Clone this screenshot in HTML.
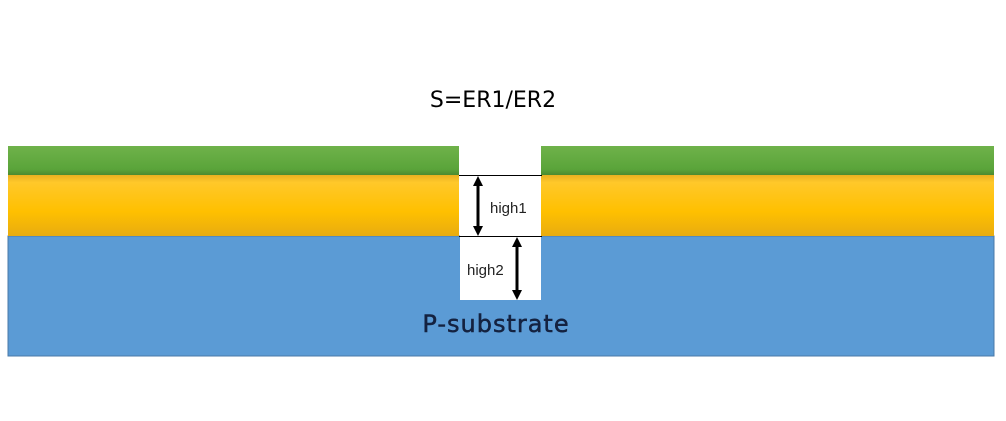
<!DOCTYPE html>
<html><head><style>
html,body{margin:0;padding:0;background:#fff;}
</style></head><body>
<svg width="1006" height="416" xmlns="http://www.w3.org/2000/svg">
<defs>
<linearGradient id="g" x1="0" y1="0" x2="0" y2="1"><stop offset="0" stop-color="#6fb24a"/><stop offset="0.8" stop-color="#5aa43a"/><stop offset="1" stop-color="#4b8a30"/></linearGradient>
<linearGradient id="y" x1="0" y1="0" x2="0" y2="1"><stop offset="0" stop-color="#e8b020"/><stop offset="0.12" stop-color="#ffc82a"/><stop offset="0.6" stop-color="#ffc000"/><stop offset="1" stop-color="#e8ac10"/></linearGradient>
<marker id="a" markerWidth="10" markerHeight="10" refX="4" refY="5" orient="auto-start-reverse" markerUnits="userSpaceOnUse"><path d="M0,0 L10,5 L0,10 z" fill="#000"/></marker>
</defs>
<rect x="0" y="0" width="1006" height="416" fill="#fff"/>
<rect x="8" y="236" width="986" height="120" fill="#5b9bd5" stroke="#4a7aa8" stroke-width="1"/>
<rect x="8" y="146" width="451" height="29" fill="url(#g)"/>
<rect x="541" y="146" width="453" height="29" fill="url(#g)"/>
<rect x="8" y="175" width="451" height="61" fill="url(#y)"/>
<rect x="541" y="175" width="453" height="61" fill="url(#y)"/>
<rect x="460" y="146" width="81" height="154" fill="#fff"/>
<line x1="459" y1="175.5" x2="542" y2="175.5" stroke="#000" stroke-width="1"/>
<line x1="459" y1="236.5" x2="542" y2="236.5" stroke="#000" stroke-width="1"/>
<line x1="478" y1="182" x2="478" y2="230" stroke="#000" stroke-width="3" marker-start="url(#a)" marker-end="url(#a)"/>
<line x1="517" y1="243" x2="517" y2="294" stroke="#000" stroke-width="3" marker-start="url(#a)" marker-end="url(#a)"/>
<text x="490" y="213" font-family="Liberation Sans, sans-serif" font-size="15" fill="#222">high1</text>
<text x="467" y="275" font-family="Liberation Sans, sans-serif" font-size="15" fill="#222">high2</text>
<text x="493" y="107" text-anchor="middle" font-family="DejaVu Sans, sans-serif" font-size="22" fill="#000">S=ER1/ER2</text>
<text x="496" y="332" text-anchor="middle" font-family="DejaVu Sans, sans-serif" font-size="24" fill="#142240" stroke="#142240" stroke-width="0.5" letter-spacing="1">P-substrate</text>
</svg>
</body></html>
